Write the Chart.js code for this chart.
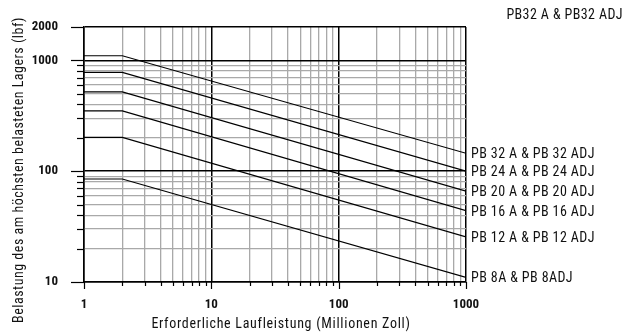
<!DOCTYPE html>
<html>
<head>
<meta charset="utf-8">
<script src="https://cdn.jsdelivr.net/npm/chart.js@4.4.1/dist/chart.umd.min.js"></script>
<style>
  html, body { margin: 0; padding: 0; background: #fff; }
  #wrap { position: relative; width: 626px; height: 334px; }
</style>
</head>
<body>
<div id="wrap"><canvas id="chart" width="626" height="334"></canvas></div>
<script>
const FONT = "'Roboto Condensed', 'Liberation Sans', sans-serif";

// data (log-log, lbf vs million inches)
const seriesNames = [
  "PB 32 A & PB 32 ADJ",
  "PB 24 A & PB 24 ADJ",
  "PB 20 A & PB 20 ADJ",
  "PB 16 A & PB 16 ADJ",
  "PB 12 A & PB 12 ADJ",
  "PB 8A & PB 8ADJ",
];
const lifeX = [1, 2, 1000];
const loadPB32 = [1100, 1100, 145];
const loadPB24 = [780, 780, 100];
const loadPB20 = [520, 520, 66];
const loadPB16 = [350, 350, 44];
const loadPB12 = [202, 202, 25.5];
const loadPB8 = [85, 85, 11];
const allLoads = [loadPB32, loadPB24, loadPB20, loadPB16, loadPB12, loadPB8];

const xTicks = [1, 2, 3, 4, 5, 6, 7, 8, 9, 10, 20, 30, 40, 50, 60, 70, 80, 90, 100,
  200, 300, 400, 500, 600, 700, 800, 900, 1000];
const yTicks = [10, 20, 30, 40, 50, 60, 70, 80, 90, 100, 200, 300, 400, 500, 600, 700, 800, 900, 1000, 2000];
const xLabels = [1, 10, 100, 1000];
const yLabels = [10, 100, 1000, 2000];

const chartTitle = "PB32 A & PB32 ADJ";
const xTitle = "Erforderliche Laufleistung (Millionen Zoll)";
const yTitle = "Belastung des am höchsten belasteten Lagers (lbf)";

function isDecade(v) {
  const l = Math.log10(v);
  return Math.abs(l - Math.round(l)) < 1e-9;
}
function isMajorY(v) {
  return isDecade(v) || v === yTicks[yTicks.length - 1];
}

const decor = {
  id: "decor",
  afterDraw(chart) {
    const ctx = chart.ctx;
    const xs = chart.scales.x;
    const ys = chart.scales.y;
    const area = chart.chartArea;
    ctx.save();
    ctx.strokeStyle = "#000";
    ctx.lineWidth = 1.2;
    // outside tick marks
    yTicks.forEach((v) => {
      const py = Math.round(ys.getPixelForValue(v)) + 0.5;
      const len = isMajorY(v) ? 13 : 7;
      ctx.beginPath();
      ctx.moveTo(area.left - len, py);
      ctx.lineTo(area.left, py);
      ctx.stroke();
    });
    xTicks.forEach((v) => {
      const px = Math.round(xs.getPixelForValue(v)) + 0.5;
      const len = isDecade(v) ? 7 : 4;
      ctx.beginPath();
      ctx.moveTo(px, area.bottom);
      ctx.lineTo(px, area.bottom + len);
      ctx.stroke();
    });

    ctx.fillStyle = "#111";
    // series labels at the end of each line
    ctx.font = "14px " + FONT;
    ctx.textAlign = "left";
    ctx.textBaseline = "middle";
    ctx.letterSpacing = "0.4px";
    const meta = chart.data.datasets.map((d, i) => chart.getDatasetMeta(i));
    meta.forEach((m, i) => {
      const pt = m.data[m.data.length - 1];
      ctx.fillText(seriesNames[i], area.right + 5, pt.y + 1.5);
    });

    // top-right title
    ctx.letterSpacing = "0.4px";
    ctx.textAlign = "right";
    ctx.fillText(chartTitle, 623, 15);

    // axis titles
    ctx.letterSpacing = "0.7px";
    ctx.textAlign = "center";
    ctx.fillText(xTitle, 281, 324);
    ctx.letterSpacing = "0.5px";
    ctx.translate(19, 170);
    ctx.rotate(-Math.PI / 2);
    ctx.fillText(yTitle, 0, 0);
    ctx.restore();
  },
};

const ctx = document.getElementById("chart").getContext("2d");
new Chart(ctx, {
  type: "line",
  data: {
    datasets: allLoads.map((vals, i) => ({
      label: seriesNames[i],
      data: lifeX.map((x, j) => ({ x, y: vals[j] })),
      borderColor: "#000",
      borderWidth: 1.2,
      pointRadius: 0,
      tension: 0,
      fill: false,
    })),
  },
  options: {
    responsive: false,
    animation: false,
    devicePixelRatio: 1,
    layout: { padding: { top: 27, right: 160, left: 0, bottom: 0 } },
    plugins: { legend: { display: false }, tooltip: { enabled: false }, title: { display: false } },
    scales: {
      x: {
        type: "logarithmic",
        min: 1,
        max: 1000,
        afterFit: (s) => { s.height = 52; },
        afterBuildTicks: (s) => { s.ticks = xTicks.map((v) => ({ value: v })); },
        border: { display: true, color: "#000", width: 1.5 },
        grid: {
          drawTicks: false,
          color: (c) => (c.tick && isDecade(c.tick.value) ? "#000" : "#a9a9a9"),
          lineWidth: (c) => (c.tick && isDecade(c.tick.value) ? 1.5 : 1.3),
        },
        ticks: {
          autoSkip: false,
          maxRotation: 0,
          padding: 15,
          color: "#111",
          font: { family: FONT, size: 13, weight: "bold" },
          callback: (v) => (xLabels.includes(v) ? String(v) : ""),
        },
      },
      y: {
        type: "logarithmic",
        min: 10,
        max: 2000,
        afterFit: (s) => {
          s.width = 84;
          s.paddingTop = 0;
          s.paddingBottom = 0;
        },
        afterBuildTicks: (s) => { s.ticks = yTicks.map((v) => ({ value: v })); },
        border: { display: true, color: "#000", width: 1.5 },
        grid: {
          drawTicks: false,
          color: (c) => (c.tick && isMajorY(c.tick.value) ? "#000" : "#a9a9a9"),
          lineWidth: (c) => (c.tick && isMajorY(c.tick.value) ? 1.5 : 1.3),
        },
        ticks: {
          autoSkip: false,
          padding: 26,
          color: "#111",
          font: { family: FONT, size: 13, weight: "bold" },
          callback: (v) => (yLabels.includes(v) ? String(v) : ""),
        },
      },
    },
  },
  plugins: [decor],
});
</script>
</body>
</html>
